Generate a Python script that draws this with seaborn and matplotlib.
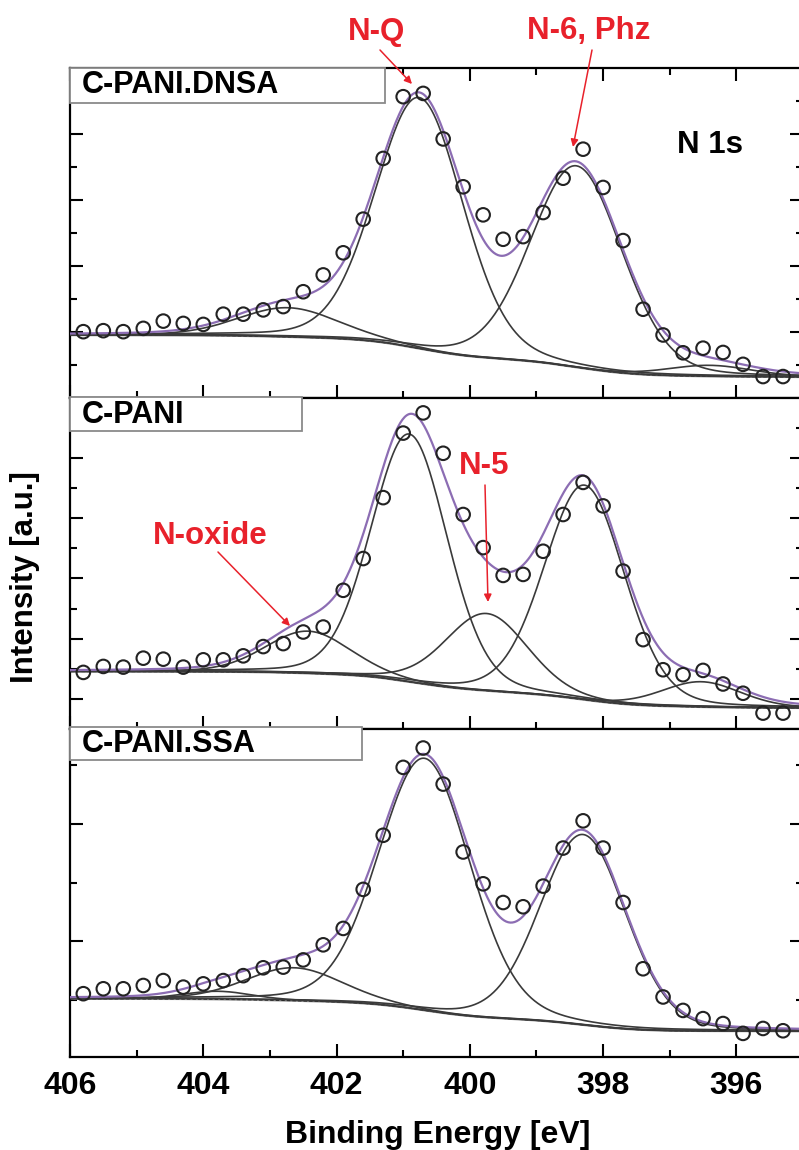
import numpy as np
import pandas as pd
import matplotlib
matplotlib.use("Agg")
import matplotlib.pyplot as plt
import seaborn as sns
from matplotlib.patches import Rectangle
from matplotlib.ticker import MultipleLocator, FixedLocator

sns.set_theme(style="white")
plt.rcParams["font.family"] = ["Liberation Sans", "DejaVu Sans"]
plt.rcParams["font.weight"] = "bold"
plt.rcParams["text.color"] = "black"
plt.rcParams["xtick.color"] = "black"
plt.rcParams["ytick.color"] = "black"
plt.rcParams["xtick.labelcolor"] = "black"

# ---------------- data ----------------
energy = [405.8, 405.5, 405.2, 404.9, 404.6, 404.3, 404.0, 403.7, 403.4, 403.1,
          402.8, 402.5, 402.2, 401.9, 401.6, 401.3, 401.0, 400.7, 400.4, 400.1,
          399.8, 399.5, 399.2, 398.9, 398.6, 398.3, 398.0, 397.7, 397.4, 397.1,
          396.8, 396.5, 396.2, 395.9, 395.6, 395.3]

dnsa_counts = [20.1, 20.4, 20.1, 21.1, 23.3, 22.6, 22.3, 25.4, 25.4, 26.7,
               27.7, 32.2, 37.3, 44.0, 54.2, 72.6, 91.3, 92.3, 78.5, 64.0,
               55.5, 48.1, 48.9, 56.2, 66.6, 75.4, 63.8, 47.7, 26.9, 19.1,
               13.7, 15.1, 13.8, 10.2, 6.5, 6.5]
pani_counts = [17.1, 18.9, 18.7, 21.4, 21.1, 18.7, 20.9, 20.9, 22.1, 24.9,
               25.8, 29.3, 30.8, 41.9, 51.5, 69.9, 89.4, 95.5, 83.3, 64.8,
               54.8, 46.4, 46.7, 53.7, 64.8, 74.5, 67.4, 47.7, 27.0, 17.9,
               16.4, 17.7, 13.6, 10.8, 4.8, 4.8]
ssa_counts = [19.3, 20.8, 20.8, 21.8, 23.3, 21.3, 22.3, 23.3, 24.8, 27.2,
              27.4, 29.6, 34.2, 39.2, 51.1, 67.6, 88.3, 94.2, 83.2, 62.5,
              52.8, 47.1, 45.8, 52.1, 63.7, 72.0, 63.7, 47.1, 26.9, 18.3,
              14.2, 11.7, 10.2, 7.2, 8.7, 8.0]

# fitted components: centre (eV), height (a.u.), FWHM (eV)
dnsa_centers = [402.73, 400.76, 398.40, 396.40]
dnsa_heights = [8.8, 76.0, 61.0, 3.3]
dnsa_fwhm = [1.75, 1.55, 1.62, 1.50]
dnsa_bg = [19.1, 6.4]          # Shirley background: high-BE end, low-BE end

pani_centers = [402.43, 400.91, 399.75, 398.28, 396.53]
pani_heights = [12.7, 74.8, 23.3, 64.8, 7.6]
pani_fwhm = [1.50, 1.35, 1.45, 1.42, 1.40]
pani_bg = [17.4, 6.4]

ssa_centers = [403.78, 402.64, 400.68, 398.30]
ssa_heights = [2.4, 10.0, 76.8, 58.0]
ssa_fwhm = [1.20, 1.70, 1.62, 1.52]
ssa_bg = [17.8, 7.9]

panel_names = ["C-PANI.DNSA", "C-PANI", "C-PANI.SSA"]
x_ticks_major = [406, 404, 402, 400, 398, 396]

# ---------------- helpers ----------------
ETA = 0.15


def pvoigt(e, c, h, w):
    g = np.exp(-4 * np.log(2) * ((e - c) / w) ** 2)
    l = 1.0 / (1.0 + 4 * ((e - c) / w) ** 2)
    return h * (ETA * l + (1 - ETA) * g)


def fit_curves(centers, heights, fwhm, bg):
    e = np.linspace(395.0, 406.0, 700)
    peaks = [pvoigt(e, c, h, w) for c, h, w in zip(centers, heights, fwhm)]
    total = np.sum(peaks, axis=0)
    cum = np.concatenate([[0], np.cumsum((total[1:] + total[:-1]) / 2 * np.diff(e))])
    frac = cum / cum[-1]
    back = bg[1] + (bg[0] - bg[1]) * frac
    return e, back, [back + p for p in peaks], back + total


W, H = 799, 1150
fig = plt.figure(figsize=(W / 100, H / 100), dpi=100)


def rect(l, t, r, b):
    return [l / W, 1 - b / H, (r - l) / W, (b - t) / H]


panel_px = [(70, 68, 803, 398), (70, 398, 803, 729), (70, 729, 803, 1057)]
params = [
    (dnsa_counts, dnsa_centers, dnsa_heights, dnsa_fwhm, dnsa_bg),
    (pani_counts, pani_centers, pani_heights, pani_fwhm, pani_bg),
    (ssa_counts, ssa_centers, ssa_heights, ssa_fwhm, ssa_bg),
]
ymaj = [[20, 40, 60, 80], [9.1, 27.3, 45.5, 63.7, 81.9], [35.5, 70.9]]
ymin = [[10, 30, 50, 70, 90], [18.2, 36.4, 54.6, 72.8, 91.0], [17.3, 53.0, 89.1]]

PURPLE = "#8c6db3"
COMP = "#3a3a3a"

axes = []
for i, (box, p) in enumerate(zip(panel_px, params)):
    ax = fig.add_axes(rect(*box))
    axes.append(ax)
    counts, centers, heights, fwhm, bg = p
    e, back, comps, env = fit_curves(centers, heights, fwhm, bg)

    sns.lineplot(x=e, y=back, ax=ax, color="#8a8a8a", lw=1.8,
                 estimator=None, zorder=2)
    sns.lineplot(x=e, y=back, ax=ax, color="#222222", lw=1.0,
                 linestyle=(0, (2.5, 1.5)), estimator=None, zorder=2)
    for cc in comps:
        sns.lineplot(x=e, y=cc, ax=ax, color=COMP, lw=1.2, estimator=None, zorder=3)
    sns.lineplot(x=e, y=env, ax=ax, color=PURPLE, lw=1.6, estimator=None, zorder=4)
    sns.scatterplot(x=energy, y=counts, ax=ax, marker="o", s=95,
                    facecolors="none", edgecolor="#222222", linewidth=1.5, zorder=5)

    ax.set_xlim(406, 395)
    ax.set_ylim(0, 100)
    ax.set_xlabel("")
    ax.set_ylabel("")
    ax.xaxis.set_major_locator(FixedLocator(x_ticks_major))
    ax.xaxis.set_minor_locator(MultipleLocator(1))
    ax.yaxis.set_major_locator(FixedLocator(ymaj[i]))
    ax.yaxis.set_minor_locator(FixedLocator(ymin[i]))
    ax.tick_params(axis="both", which="both", direction="in", color="black",
                   width=1.5, left=True, right=True, bottom=True, top=(i == 0),
                   labelleft=False, labelbottom=(i == 2))
    ax.tick_params(which="major", length=9.5)
    ax.tick_params(which="minor", length=5)
    ax.tick_params(axis="x", labelsize=23, pad=10, labelcolor="black")
    for lab in ax.get_xticklabels():
        lab.set_fontweight("bold")
    for s in ax.spines.values():
        s.set_color("black")
        s.set_linewidth(1.6)
    if ax.get_legend():
        ax.get_legend().remove()

# panel label boxes
label_boxes = [(70, 68, 385, 103, 93), (70, 397, 302, 431, 423), (70, 727, 362, 760, 752)]
for name, (l, t, r, b, base) in zip(panel_names, label_boxes):
    fig.add_artist(Rectangle((l / W, 1 - b / H), (r - l) / W, (b - t) / H,
                             transform=fig.transFigure, facecolor="white",
                             edgecolor="#8a8a8a", lw=1.3, zorder=10))
    fig.text(82 / W, 1 - base / H, name, fontsize=22, fontweight="bold",
             color="black", ha="left", va="baseline", zorder=11)

fig.text(710 / W, 1 - 153 / H, "N 1s", fontsize=22.5, fontweight="bold",
         color="black", ha="center", va="baseline")

RED = "#e8212b"
annots = [("N-Q", (377, 40), (380, 50), (412, 84), 0),
          ("N-6, Phz", (589, 39.5), (592, 50), (573, 147), 0),
          ("N-oxide", (210, 544), (218, 552), (290, 626), 1),
          ("N-5", (484, 474), (485, 485), (488, 602), 1)]
for txt, (tx, ty), (ax0, ay0), (ax1, ay1), k in annots:
    fig.text(tx / W, 1 - ty / H, txt, fontsize=22.5, fontweight="bold", color=RED,
             ha="center", va="baseline", zorder=12)
    axes[k].annotate("", xy=(ax1, H - ay1), xycoords="figure pixels",
                     xytext=(ax0, H - ay0), textcoords="figure pixels",
                     annotation_clip=False, zorder=12,
                     arrowprops=dict(arrowstyle="-|>", color=RED, lw=1.1,
                                     mutation_scale=11, shrinkA=0, shrinkB=0))

fig.text(438 / W, 1 - 1143 / H, "Binding Energy [eV]", fontsize=23,
         fontweight="bold", color="black", ha="center", va="baseline")
fig.text(25 / W, 1 - 577 / H, "Intensity [a.u.]", fontsize=22.5,
         fontweight="bold", color="black", ha="center", va="center", rotation=90)

fig.savefig("out.png", dpi=100)
